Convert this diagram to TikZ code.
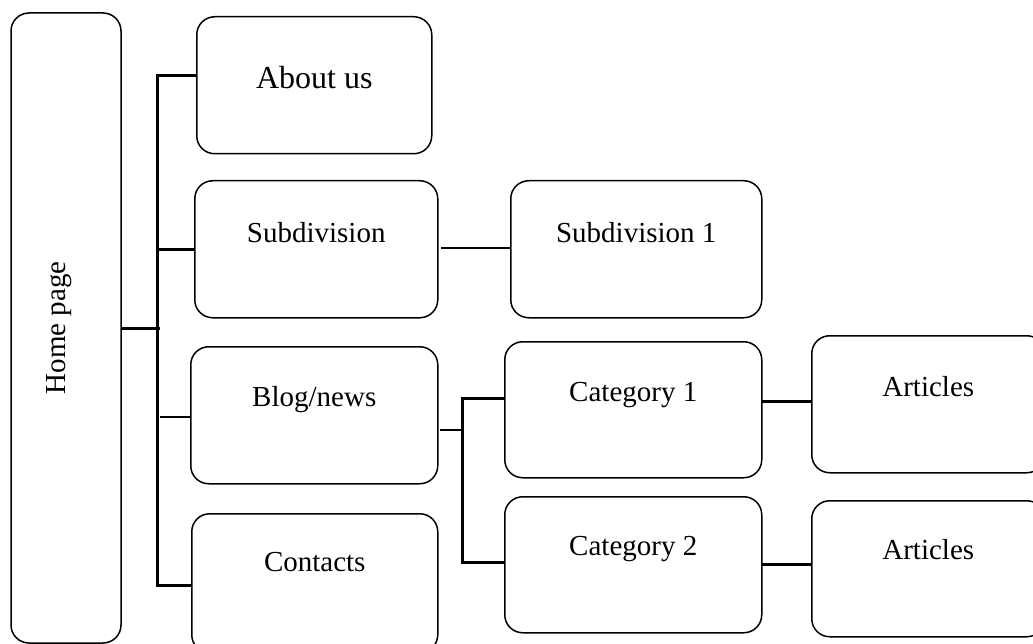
\documentclass[tikz,border=0pt]{standalone}
\usepackage{fontspec}
\setmainfont{Liberation Serif}
\begin{document}
\begin{tikzpicture}[x=1pt,y=-1pt,
  box/.style={draw, line width=1.5pt, rounded corners=18pt, inner sep=0pt,
    font=\fontsize{29}{35}\selectfont, anchor=north west},
  thickl/.style={line width=3pt},
  thinl/.style={line width=1.6pt}]
\useasboundingbox (0,0) rectangle (1033,644);

% boxes
\node[box, rotate=90, anchor=center, minimum width=630pt, minimum height=110pt,
      text height=54pt, text depth=56pt] (home) at (66,328) {Home page};
\node[box, minimum width=235pt, minimum height=137pt, text height=72pt, text depth=65pt,
      font=\fontsize{32}{38}\selectfont] (about) at (196,16) {About us};
\node[box, minimum width=243pt, minimum height=137pt, text height=62pt, text depth=75pt] (subdiv) at (194,180) {Subdivision};
\node[box, minimum width=251pt, minimum height=137pt, text height=62pt, text depth=75pt] (subone) at (510,180) {Subdivision 1};
\node[box, minimum width=247pt, minimum height=137pt, text height=60pt, text depth=77pt] (blog) at (190,346) {Blog/news};
\node[box, minimum width=246pt, minimum height=139pt, text height=58pt, text depth=81pt] (contacts) at (191,513) {Contacts};
\node[box, minimum width=257pt, minimum height=136pt, text height=60pt, text depth=76pt] (cat1) at (504,341) {Category 1};
\node[box, minimum width=257pt, minimum height=136pt, text height=59pt, text depth=77pt] (cat2) at (504,496) {Category 2};
\node[box, minimum width=233pt, minimum height=137pt, text height=61pt, text depth=76pt] (art1) at (811,335) {Articles};
\node[box, minimum width=233pt, minimum height=136pt, text height=59pt, text depth=77pt] (art2) at (811,500) {Articles};

% junction points
\coordinate (tA) at (157,76);
\coordinate (tB) at (157,250);
\coordinate (tC) at (160,417);
\coordinate (tD) at (157,585);
\coordinate (sJ) at (441,248);
\coordinate (bJ) at (440,430);
\coordinate (cA) at (462,398);
\coordinate (cB) at (462,562);
\coordinate (aA) at (761,401);
\coordinate (aB) at (761,564);

% connectors
\draw[thickl] (home.south) -- (home.south -| tC);
\draw[thickl] (tA -| about.west) -- (tA) -- (tD) -- (tD -| contacts.west);
\draw[thickl] (tB) -- (tB -| subdiv.west);
\draw[thinl] (tC) -- (tC -| blog.west);
\draw[thinl] (sJ) -- (sJ -| subone.west);
\draw[thinl] (bJ) -- ([xshift=2pt]bJ -| cA);
\draw[thickl] (cA -| cat1.west) -- (cA) -- (cB) -- (cB -| cat2.west);
\draw[thickl] (aA) -- (aA -| art1.west);
\draw[thickl] (aB) -- (aB -| art2.west);
\end{tikzpicture}
\end{document}
